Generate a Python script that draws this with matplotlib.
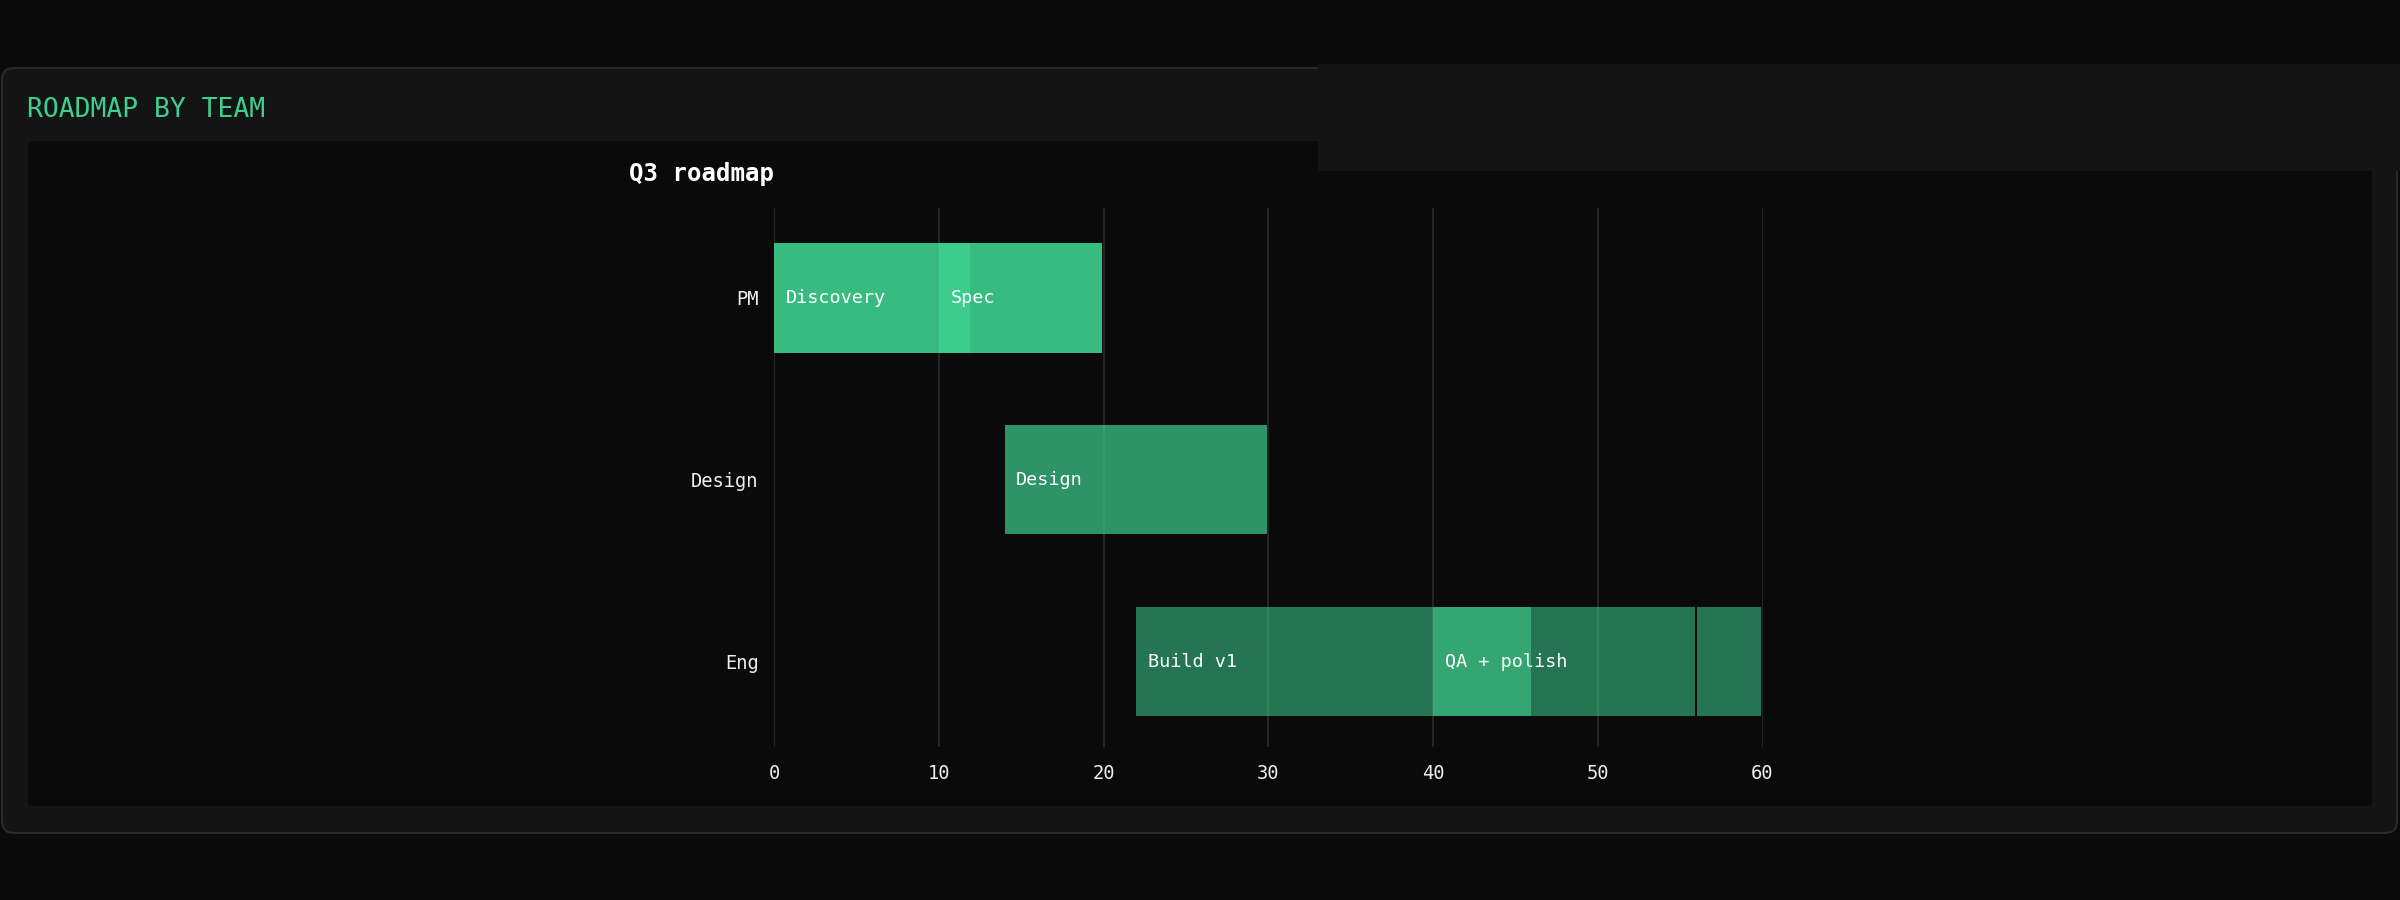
import matplotlib.pyplot as plt
from matplotlib.patches import FancyBboxPatch, Rectangle

# data
teams = ["PM", "Design", "Eng"]
team_alpha = [0.9, 0.7, 0.55]
task_team = ["PM", "PM", "Design", "Eng", "Eng", "Eng"]
task_name = ["Discovery", "Spec", "Design", "Build v1", "QA + polish", "Launch"]
task_start = [0, 10, 14, 22, 40, 56]
task_end = [12, 20, 30, 56, 46, 60]
x_ticks = [0, 10, 20, 30, 40, 50, 60]

BG = "#0a0a0a"
CARD = "#141414"
GREEN = "#3ecf8e"
TEXT = "#ededed"
MONO = "DejaVu Sans Mono"

W, H = 2400, 900
fig = plt.figure(figsize=(24, 9), dpi=100, facecolor=BG)

def fx(px):
    return px / W

def fy(py):
    return 1 - py / H

# card
card = FancyBboxPatch((fx(2), fy(833)), fx(2395), (833 - 68) / H,
                      boxstyle="round,pad=0,rounding_size=0.005",
                      transform=fig.transFigure, facecolor=CARD,
                      edgecolor="#2a2a2a", linewidth=1.5, mutation_aspect=W / H,
                      zorder=-3)
fig.patches.append(card)

# inner plot panel
panel = FancyBboxPatch((fx(28), fy(806)), fx(2372 - 28), (806 - 141) / H,
                       boxstyle="round,pad=0,rounding_size=0.002",
                       transform=fig.transFigure, facecolor=BG,
                       edgecolor="none", mutation_aspect=W / H, zorder=-2)
fig.patches.append(panel)

# odd header patch at the top right
fig.patches.append(Rectangle((fx(1318), fy(171)), fx(W - 1318), (171 - 64) / H,
                             transform=fig.transFigure, facecolor=CARD,
                             edgecolor="none", zorder=-1))

fig.text(fx(27), fy(110), "ROADMAP BY TEAM", color=GREEN, fontsize=19,
         family=MONO, va="center", ha="left")
fig.text(fx(629), fy(174), "Q3 roadmap", color="white", fontsize=17.3,
         family=MONO, weight="bold", va="center", ha="left")

ax = fig.add_axes([fx(774), fy(747), fx(1762.5 - 774), (747 - 208) / H])
ax.set_facecolor("none")
ax.set_zorder(2)

for x in x_ticks:
    ax.axvline(x, color="#2b2b2b", linewidth=1.2, zorder=0)

for name, team, s, e in zip(task_name, task_team, task_start, task_end):
    row = teams.index(team)
    ax.barh(row, e - s - 0.08, left=s, height=0.6, color=GREEN,
            alpha=team_alpha[row], linewidth=0, zorder=2)
    if e - s >= 5:
        ax.text(s + 0.7, row, name, color="white", fontsize=13.3, family=MONO,
                va="center", ha="left", zorder=3)

ax.set_xlim(0, 60)
ax.set_ylim(2.47, -0.495)
ax.set_xticks(x_ticks)
ax.set_xticklabels([str(t) for t in x_ticks])
ax.set_yticks(range(len(teams)))
ax.set_yticklabels(teams)
ax.tick_params(axis="x", length=0, pad=12, labelcolor=TEXT, labelsize=13.5)
ax.tick_params(axis="y", length=0, pad=11, labelcolor=TEXT, labelsize=13.5)
for lab in ax.get_xticklabels() + ax.get_yticklabels():
    lab.set_family(MONO)
for sp in ax.spines.values():
    sp.set_visible(False)

fig.savefig("out.png", dpi=100, facecolor=BG)
